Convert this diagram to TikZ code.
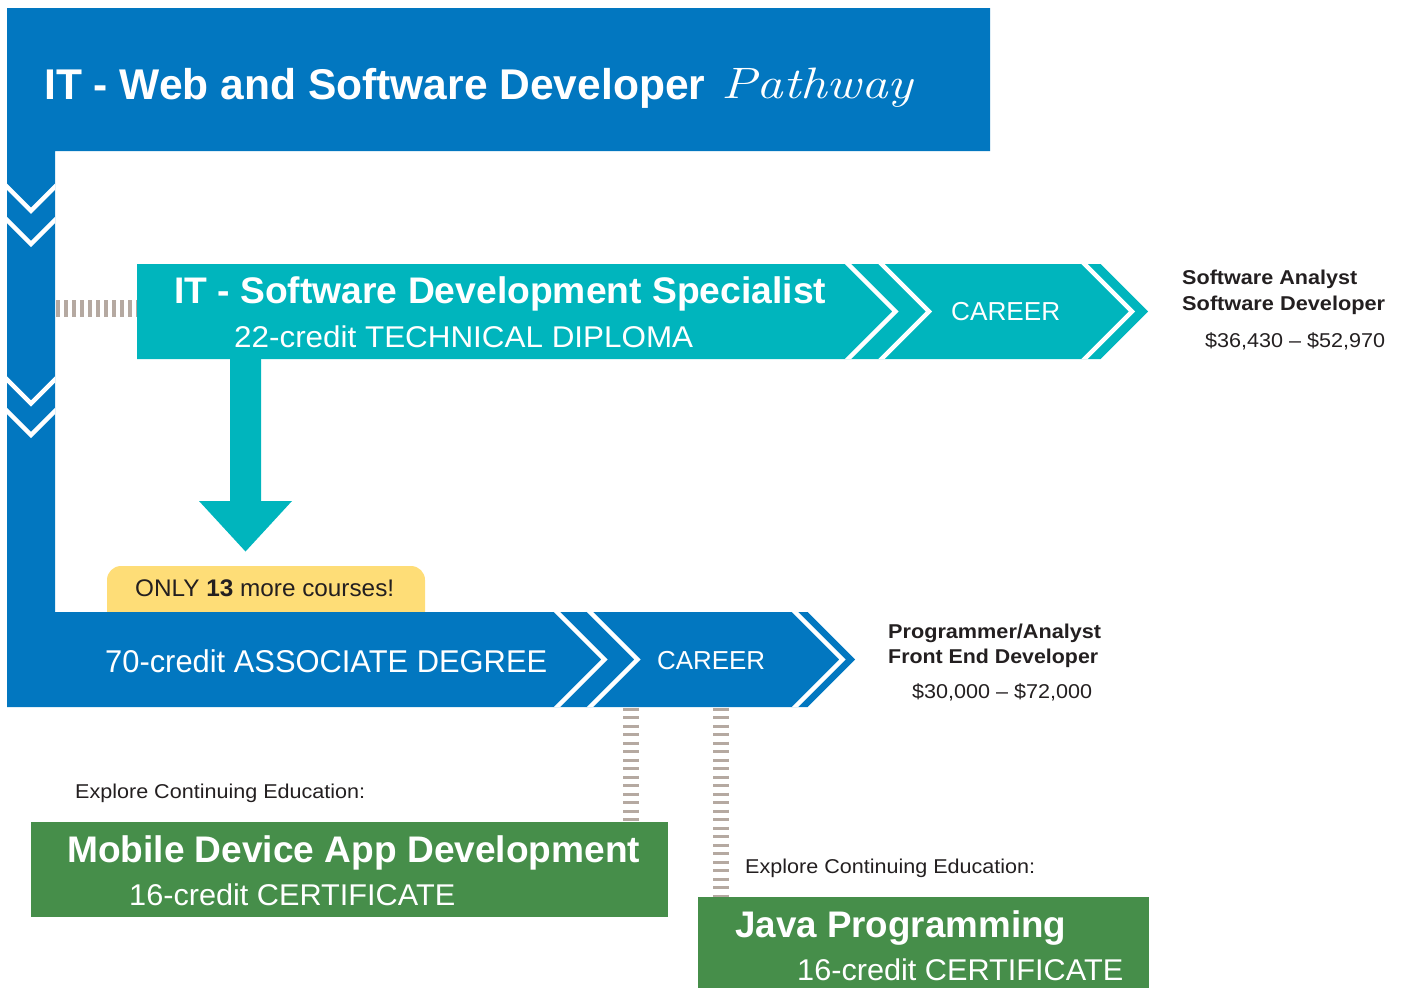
\documentclass[tikz,border=0pt]{standalone}
\usepackage{fontspec}
\newfontfamily\hv{Liberation Sans}
\usepackage{graphicx}
\definecolor{pblue}{RGB}{2,119,192}
\definecolor{pteal}{RGB}{0,181,189}
\definecolor{pgreen}{RGB}{70,142,74}
\definecolor{pyellow}{RGB}{254,221,119}
\definecolor{phatch}{RGB}{181,169,161}
\definecolor{pdark}{RGB}{35,31,32}
\newcommand{\fitw}[2]{\resizebox{#1}{\height}{#2}}
\newcommand{\fs}[1]{\fontsize{#1}{#1}\selectfont}
\begin{document}
\begin{tikzpicture}[x=1pt,y=-1pt,
  txt/.style={inner sep=0pt, anchor=base west, font=\hv},
  wtxt/.style={txt, text=white},
  dtxt/.style={txt, text=pdark},
  wline/.style={draw=white, line width=4.5pt},
  hatchh/.style={draw=phatch, line width=17pt, dash pattern=on 4pt off 4pt},
  hatchv/.style={draw=phatch, line width=16pt, dash pattern=on 3pt off 5.5pt},
  gbox/.style={fill=pgreen, inner sep=0pt, anchor=north west}]
\useasboundingbox (0,0) rectangle (1403,988);

% yellow tab (behind the blue bar)
\fill[pyellow, rounded corners=14pt] (107,566) rectangle (425,640);

% blue pathway shape
\fill[pblue] (7,8) -- (990,8) -- (990,151) -- (55,151) -- (55,612) -- (807.5,612)
  -- (855,659.5) -- (807.5,707) -- (7,707) -- cycle;
\begin{scope}
  \clip (7,8) -- (990,8) -- (990,151) -- (55,151) -- (55,612) -- (807.5,612)
    -- (855,659.5) -- (807.5,707) -- (7,707) -- cycle;
  \foreach \t in {210.8,244,403.5,435}
    \draw[wline] (0,\t-31) -- (31,\t) -- (62,\t-31);
  \foreach \a in {557,590,795}
    \draw[wline] (\a-10,602) -- (\a+47.5,659.5) -- (\a-10,717);
\end{scope}

% teal diploma shape
\fill[pteal] (137,264) -- (1100.5,264) -- (1148,311.5) -- (1100.5,359) -- (137,359) -- cycle;
\begin{scope}
  \clip (137,264) -- (1100.5,264) -- (1148,311.5) -- (1100.5,359) -- (137,359) -- cycle;
  \foreach \a in {848,881.5,1084.5}
    \draw[wline] (\a-10,254) -- (\a+47.5,311.5) -- (\a-10,369);
\end{scope}

% teal down arrow
\fill[pteal] (230,358) -- (261,358) -- (261,501) -- (292,501) -- (245.5,551.5)
  -- (199,501) -- (230,501) -- cycle;

% hatched connector bar -> diploma
\coordinate (barE) at (56,308.5);
\coordinate (tealW) at (137,308.5);
\draw[hatchh] (barE) -- (tealW);

% green certificate boxes
\node[gbox, minimum width=637pt, minimum height=95pt] (mobile) at (31,822) {};
\node[gbox, minimum width=451pt, minimum height=91pt] (java) at (698,897) {};

% hatched connectors degree -> certificates
\coordinate (degS1) at (631,707.5);
\coordinate (degS2) at (721,707.5);
\draw[hatchv] (degS1) -- (degS1 |- mobile.north);
\draw[hatchv] (degS2) -- (degS2 |- java.north);

% texts
\node[wtxt] (title) at (44,99.5) {\fitw{661pt}{\fs{43}\bfseries IT - Web and Software Developer}};
\node[inner sep=0pt, anchor=base west, text=white] (pathway) at (721,98) {\fitw{192pt}{\fs{44}\itshape Pathway}};

\node[wtxt] (diplT) at (174,303.5) {\fitw{652pt}{\fs{37}\bfseries IT - Software Development Specialist}};
\node[wtxt] (diplS) at (234,347) {\fitw{459pt}{\fs{30}22-credit TECHNICAL DIPLOMA}};
\node[wtxt] (career1) at (951,320) {\fitw{109pt}{\fs{26}CAREER}};

\node[dtxt] (job1) at (1182,284) {\fitw{175pt}{\fs{20}\bfseries Software Analyst}};
\node[dtxt] (job2) at (1182,310) {\fitw{203pt}{\fs{20}\bfseries Software Developer}};
\node[dtxt] (pay1) at (1205,347) {\fitw{180pt}{\fs{20}\$36,430 – \$52,970}};

\node[dtxt] (only) at (135,596.5) {\fitw{259pt}{\fs{24}ONLY \textbf{13} more courses!}};

\node[wtxt] (assoc) at (105,672) {\fitw{442pt}{\fs{31.5}70-credit ASSOCIATE DEGREE}};
\node[wtxt] (career2) at (657,669.5) {\fitw{108pt}{\fs{26}CAREER}};

\node[dtxt] (job3) at (888,638) {\fitw{213pt}{\fs{20}\bfseries Programmer/Analyst}};
\node[dtxt] (job4) at (888,663) {\fitw{210pt}{\fs{20}\bfseries Front End Developer}};
\node[dtxt] (pay2) at (912,698) {\fitw{180pt}{\fs{20}\$30,000 – \$72,000}};

\node[dtxt] (explore1) at (75,798) {\fitw{290pt}{\fs{20}Explore Continuing Education:}};
\node[dtxt] (explore2) at (745,873) {\fitw{290pt}{\fs{20}Explore Continuing Education:}};

\node[wtxt] (mobileT) at (67,862) {\fitw{573pt}{\fs{37}\bfseries Mobile Device App Development}};
\node[wtxt] (mobileS) at (129,905) {\fitw{326pt}{\fs{30}16-credit CERTIFICATE}};
\node[wtxt] (javaT) at (735,937) {\fitw{331pt}{\fs{37}\bfseries Java Programming}};
\node[wtxt] (javaS) at (797,980) {\fitw{326pt}{\fs{30}16-credit CERTIFICATE}};
\end{tikzpicture}
\end{document}
